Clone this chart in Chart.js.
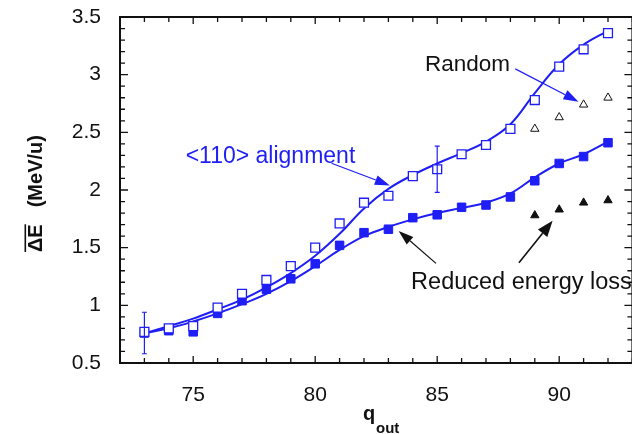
<!DOCTYPE html>
<html><head><meta charset="utf-8">
<script src="https://cdn.jsdelivr.net/npm/chart.js@4/dist/chart.umd.min.js"></script>
<style>html,body{margin:0;padding:0;background:#fff;overflow:hidden;}#wrap{width:640px;height:434px;}</style>
</head><body><div id="wrap"><canvas id="c" width="640" height="434"></canvas></div>
<script>
// ---- data ----
const qValues = [73,74,75,76,77,78,79,80,81,82,83,84,85,86,87,88,89,90,91,92];
const alignedE = [0.77,0.80,0.82,0.98,1.10,1.22,1.34,1.50,1.71,1.89,1.95,2.12,2.18,2.31,2.39,2.53,2.78,3.07,3.22,3.36];
const reducedE = [0.76,0.78,0.77,0.93,1.04,1.14,1.23,1.36,1.52,1.63,1.66,1.76,1.785,1.85,1.87,1.94,2.08,2.23,2.29,2.41];
const alignedFit = [0.757,0.82,0.885,0.965,1.05,1.156,1.28,1.43,1.62,1.84,2.01,2.13,2.23,2.32,2.42,2.57,2.84,3.09,3.26,3.38];
const reducedFit = [0.757,0.80,0.86,0.93,1.01,1.10,1.21,1.34,1.48,1.60,1.68,1.745,1.80,1.845,1.89,1.97,2.11,2.23,2.31,2.42];
const randomQ = [89,90,91,92];
const randomE = [2.53,2.63,2.74,2.80];
const randomReducedE = [1.78,1.83,1.89,1.91];
const errQ = [73,85];
const errLow = [0.58,1.98];
const errHigh = [0.94,2.38];
const xTickValues = [75,80,85,90];
const xTickLabels = ['75','80','85','90'];
const yTickValues = [0.5,1,1.5,2,2.5,3,3.5];
const yTickLabels = ['0.5','1','1.5','2','2.5','3','3.5'];

const BLUE = '#1e1ef5';
const FONT = '"Liberation Sans", Arial, Helvetica, sans-serif';

const pts = (xs, ys) => xs.map((x, i) => ({x: x, y: ys[i]}));

// ---- custom drawing: frame, inward ticks, error bars, titles, annotations ----
const decor = {
  id: 'decor',
  afterDatasetsDraw(chart) {
    const ctx = chart.ctx, xs = chart.scales.x, ys = chart.scales.y;
    const a = chart.chartArea;
    ctx.save();
    // error bars
    ctx.strokeStyle = BLUE; ctx.lineWidth = 1.2;
    errQ.forEach((q, i) => {
      const px = xs.getPixelForValue(q);
      const y1 = ys.getPixelForValue(errLow[i]), y2 = ys.getPixelForValue(errHigh[i]);
      ctx.beginPath();
      ctx.moveTo(px, y1); ctx.lineTo(px, y2);
      ctx.moveTo(px - 2.5, y1); ctx.lineTo(px + 2.5, y1);
      ctx.moveTo(px - 2.5, y2); ctx.lineTo(px + 2.5, y2);
      ctx.stroke();
    });
    // frame
    ctx.strokeStyle = '#111'; ctx.lineWidth = 2;
    ctx.strokeRect(a.left, a.top, a.right - a.left, a.bottom - a.top);
    // x ticks (every 1, major every 5)
    ctx.lineWidth = 1.3;
    ctx.beginPath();
    for (let v = Math.ceil(xs.min); v <= xs.max; v++) {
      const px = xs.getPixelForValue(v);
      const L = (v % 5 === 0) ? 7 : 5;
      ctx.moveTo(px, a.bottom); ctx.lineTo(px, a.bottom - L);
      ctx.moveTo(px, a.top); ctx.lineTo(px, a.top + L);
    }
    // y ticks (every 0.1, major every 0.5)
    for (let k = Math.round(ys.min * 10); k <= Math.round(ys.max * 10); k++) {
      const py = ys.getPixelForValue(k / 10);
      const L = (k % 5 === 0) ? 8 : 5;
      ctx.moveTo(a.left, py); ctx.lineTo(a.left + L, py);
      ctx.moveTo(a.right, py); ctx.lineTo(a.right - L, py);
    }
    ctx.stroke();

    // axis titles
    ctx.fillStyle = '#111';
    ctx.textBaseline = 'alphabetic';
    ctx.textAlign = 'left';
    ctx.font = 'bold 20px ' + FONT;
    ctx.fillText('q', 363, 420);
    ctx.font = 'bold 15px ' + FONT;
    ctx.fillText('out', 376, 433);

    ctx.save();
    ctx.translate(42, 252);
    ctx.rotate(-Math.PI / 2);
    ctx.font = 'bold 20px ' + FONT;
    ctx.fillText('\u0394E', 0, 0);
    const w = ctx.measureText('\u0394E').width;
    ctx.fillRect(0, -17.5, w, 1.6);
    ctx.fillText('(MeV/u)', w + 17, 0);
    ctx.restore();

    // annotations
    const P = (x, y) => [xs.getPixelForValue(x), ys.getPixelForValue(y)];
    const arrow = (from, to, color, lw, len, hw) => {
      const [x1, y1] = P(from[0], from[1]);
      const [x2, y2] = P(to[0], to[1]);
      const ang = Math.atan2(y2 - y1, x2 - x1);
      const bx = x2 - len * Math.cos(ang), by = y2 - len * Math.sin(ang);
      ctx.strokeStyle = color; ctx.fillStyle = color; ctx.lineWidth = lw;
      ctx.beginPath(); ctx.moveTo(x1, y1); ctx.lineTo(bx, by); ctx.stroke();
      ctx.beginPath();
      ctx.moveTo(x2, y2);
      ctx.lineTo(bx + hw * Math.sin(ang), by - hw * Math.cos(ang));
      ctx.lineTo(bx - hw * Math.sin(ang), by + hw * Math.cos(ang));
      ctx.closePath(); ctx.fill();
    };
    ctx.textBaseline = 'middle';
    ctx.textAlign = 'left';
    ctx.font = '23px ' + FONT;
    ctx.fillStyle = BLUE;
    let p = P(74.69, 2.29); ctx.fillText('<110> alignment', p[0], p[1]);
    ctx.fillStyle = '#111';
    ctx.font = '22.5px ' + FONT;
    p = P(84.5, 3.085); ctx.fillText('Random', p[0], p[1]);
    ctx.font = '23.5px ' + FONT;
    p = P(83.93, 1.20); ctx.fillText('Reduced energy loss', p[0], p[1]);

    arrow([80.67, 2.232], [83.06, 2.04], BLUE, 1.2, 15, 5);
    arrow([88.2, 3.05], [90.79, 2.766], BLUE, 1.2, 15, 5);
    arrow([84.95, 1.364], [83.42, 1.645], '#111', 1.2, 15, 5);
    arrow([88.35, 1.37], [89.73, 1.734], '#111', 1.6, 16, 6);
    ctx.restore();
  }
};

new Chart(document.getElementById('c'), {
  type: 'scatter',
  data: {
    datasets: [
      { data: pts(qValues, alignedE), pointStyle: 'rect', pointRadius: 6.3, borderWidth: 1.3,
        borderColor: BLUE, backgroundColor: '#fff', showLine: false },
      { data: pts(qValues, reducedE), pointStyle: 'rect', pointRadius: 6, borderWidth: 1,
        borderColor: BLUE, backgroundColor: BLUE, showLine: false },
      { data: pts(randomQ, randomE), pointStyle: 'triangle', pointRadius: 4.8, borderWidth: 1,
        borderColor: '#111', backgroundColor: '#fff', showLine: false },
      { data: pts(randomQ, randomReducedE), pointStyle: 'triangle', pointRadius: 4.8, borderWidth: 1,
        borderColor: '#111', backgroundColor: '#111', showLine: false },
      { data: pts(qValues, alignedFit), showLine: true, pointRadius: 0, borderWidth: 2,
        borderColor: BLUE, tension: 0.4 },
      { data: pts(qValues, reducedFit), showLine: true, pointRadius: 0, borderWidth: 2,
        borderColor: BLUE, tension: 0.4 }
    ]
  },
  options: {
    responsive: false,
    animation: false,
    devicePixelRatio: 1,
    layout: { padding: { top: 17, right: 4, left: 0, bottom: 0 } },
    plugins: { legend: { display: false }, tooltip: { enabled: false } },
    scales: {
      x: {
        type: 'linear', min: 72, max: 93,
        afterBuildTicks: (ax) => { ax.ticks = xTickValues.map(v => ({ value: v })); },
        afterFit: (ax) => { ax.height = 71; ax.paddingLeft = 0; ax.paddingRight = 0; },
        ticks: {
          callback: (v) => xTickLabels[xTickValues.indexOf(v)],
          font: { family: FONT, size: 21 }, color: '#111', padding: 20, maxRotation: 0
        },
        grid: { display: false, drawTicks: false },
        border: { display: false }
      },
      y: {
        type: 'linear', min: 0.5, max: 3.5,
        afterBuildTicks: (ax) => { ax.ticks = yTickValues.map(v => ({ value: v })); },
        afterFit: (ax) => { ax.width = 120; ax.paddingTop = 0; ax.paddingBottom = 0; },
        ticks: {
          callback: (v) => yTickLabels[yTickValues.indexOf(v)],
          font: { family: FONT, size: 21 }, color: '#111', padding: 19
        },
        grid: { display: false, drawTicks: false },
        border: { display: false }
      }
    }
  },
  plugins: [decor]
});
</script>
</body></html>
